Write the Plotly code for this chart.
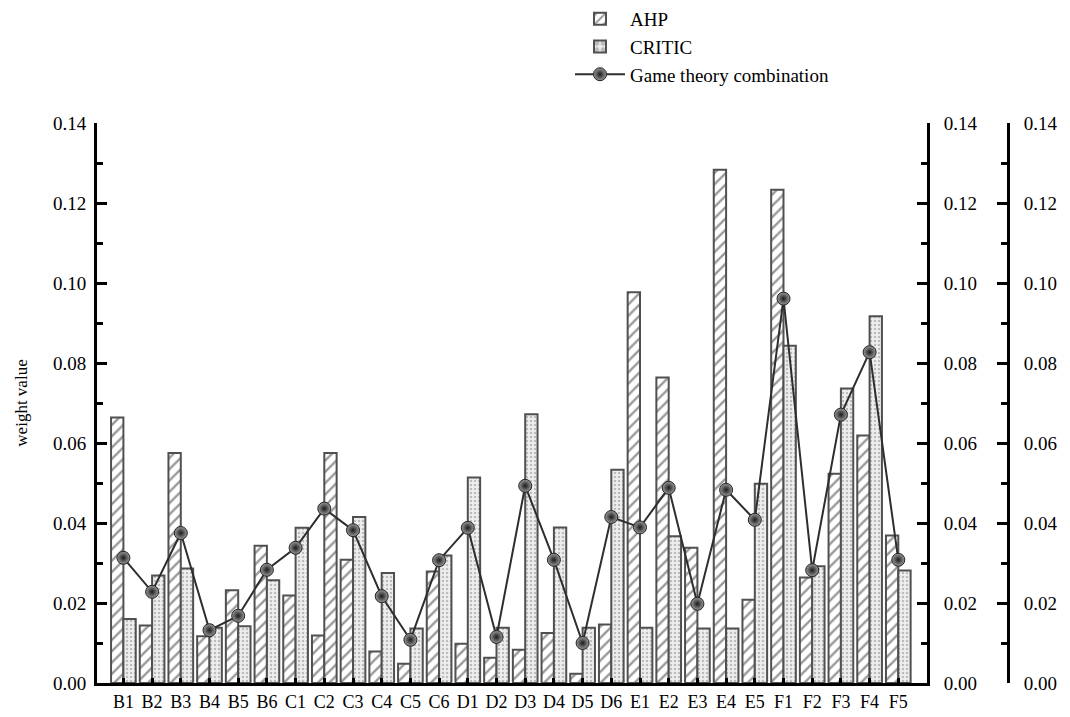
import plotly.graph_objects as go

categories = ["B1", "B2", "B3", "B4", "B5", "B6",
              "C1", "C2", "C3", "C4", "C5", "C6",
              "D1", "D2", "D3", "D4", "D5", "D6",
              "E1", "E2", "E3", "E4", "E5",
              "F1", "F2", "F3", "F4", "F5"]

ahp = [0.0664, 0.0144, 0.0575, 0.0117, 0.0232, 0.0343,
       0.0219, 0.0119, 0.0308, 0.0079, 0.0048, 0.0279,
       0.0098, 0.0063, 0.0083, 0.0125, 0.0023, 0.0146,
       0.0977, 0.0764, 0.0338, 0.1283, 0.0208,
       0.1233, 0.0264, 0.0523, 0.0619, 0.0369]

critic = [0.0160, 0.0269, 0.0286, 0.0138, 0.0142, 0.0257,
          0.0388, 0.0575, 0.0415, 0.0275, 0.0136, 0.0319,
          0.0514, 0.0138, 0.0672, 0.0389, 0.0138, 0.0533,
          0.0138, 0.0367, 0.0136, 0.0136, 0.0498,
          0.0843, 0.0292, 0.0736, 0.0917, 0.0281]

game = [0.0313, 0.0228, 0.0375, 0.0132, 0.0168, 0.0283,
        0.0338, 0.0436, 0.0382, 0.0217, 0.0108, 0.0307,
        0.0388, 0.0115, 0.0493, 0.0308, 0.0100, 0.0415,
        0.0389, 0.0488, 0.0198, 0.0483, 0.0408,
        0.0961, 0.0282, 0.0671, 0.0827, 0.0308]

y_ticks = [0.00, 0.02, 0.04, 0.06, 0.08, 0.10, 0.12, 0.14]
y_tick_text = ["0.00", "0.02", "0.04", "0.06", "0.08", "0.10", "0.12", "0.14"]

FONT = "Liberation Serif"
OUTLINE = "#505050"

# the C2 CRITIC bar is drawn hatched in the reference
critic_shapes = ["/" if c == "C2" else "." for c in categories]
critic_sizes = [8 if c == "C2" else 4 for c in categories]
critic_fg = ["#333333" if c == "C2" else "#8a8a8a" for c in categories]
critic_bg = ["white" if c == "C2" else "#eeeeee" for c in categories]
critic_sol = [0.3 for c in categories]

fig = go.Figure()
fig.add_trace(go.Bar(
    x=categories, y=ahp, name="AHP",
    marker=dict(color="white",
                line=dict(color=OUTLINE, width=2),
                pattern=dict(shape="/", fgcolor="#333333", bgcolor="white",
                             size=8, solidity=0.3)),
))
fig.add_trace(go.Bar(
    x=categories, y=critic, name="CRITIC",
    marker=dict(color="white",
                line=dict(color=OUTLINE, width=2),
                pattern=dict(shape=critic_shapes, fgcolor=critic_fg, bgcolor=critic_bg,
                             size=critic_sizes, solidity=critic_sol)),
))
fig.add_trace(go.Scatter(
    x=categories, y=game, name="Game theory combination",
    mode="lines+markers",
    line=dict(color="#2e2e2e", width=2),
    marker=dict(size=13, color="#9a9a9a", symbol="circle",
                gradient=dict(type="radial", color="#1a1a1a"),
                line=dict(color="#222222", width=1)),
))
# invisible traces to anchor the two right-hand axes
fig.add_trace(go.Scatter(x=categories, y=game, yaxis="y2", mode="lines",
                         line=dict(color="rgba(0,0,0,0)", width=0),
                         showlegend=False, hoverinfo="skip"))
fig.add_trace(go.Scatter(x=categories, y=game, yaxis="y3", mode="lines",
                         line=dict(color="rgba(0,0,0,0)", width=0),
                         showlegend=False, hoverinfo="skip"))

def yaxis_style(standoff):
    return dict(
        range=[0, 0.14], tickvals=y_ticks, ticktext=y_tick_text,
        ticks="inside", ticklen=10, tickwidth=3, tickcolor="black",
        showline=True, linewidth=3, linecolor="black",
        showgrid=False, zeroline=False, automargin=False,
        ticklabelstandoff=standoff,
        tickfont=dict(family=FONT, size=19, color="black"),
        minor=dict(dtick=0.01, tick0=0, ticks="inside", ticklen=6, tickwidth=3,
                   tickcolor="black", showgrid=False),
    )

L, R, T, B = 97, 62, 123, 34
paper_w = 1070 - L - R
x_end = (927 - L) / paper_w

fig.update_layout(
    width=1070, height=717,
    margin=dict(l=L, r=R, t=T, b=B, autoexpand=False),
    paper_bgcolor="white", plot_bgcolor="white",
    barmode="group", bargap=0.14, bargroupgap=0,
    font=dict(family=FONT, size=19, color="black"),
    xaxis=dict(
        domain=[0, x_end], type="category",
        range=[-0.92, 28.0],
        ticks="inside", ticklen=5, tickwidth=3, tickcolor="black",
        showline=True, linewidth=3, linecolor="black",
        showgrid=False, zeroline=False, automargin=False,
        ticklabelstandoff=0,
        tickfont=dict(family=FONT, size=18, color="black"),
        anchor="y",
    ),
    yaxis=dict(
        **yaxis_style(4),
        title=dict(text="weight value", font=dict(family=FONT, size=17, color="black"),
                   standoff=22),
        anchor="x",
    ),
    yaxis2=dict(**yaxis_style(10), overlaying="y", side="right", anchor="x"),
    yaxis3=dict(**yaxis_style(10), overlaying="y", side="right", anchor="free",
                position=1.0),
    legend=dict(
        xref="container", yref="container",
        x=570 / 1070, y=1.0, xanchor="left", yanchor="top",
        bgcolor="rgba(0,0,0,0)", borderwidth=0,
        font=dict(family=FONT, size=19, color="black"),
        itemwidth=50, tracegroupgap=0,
    ),
    showlegend=True,
)

fig.write_html("out.html")
